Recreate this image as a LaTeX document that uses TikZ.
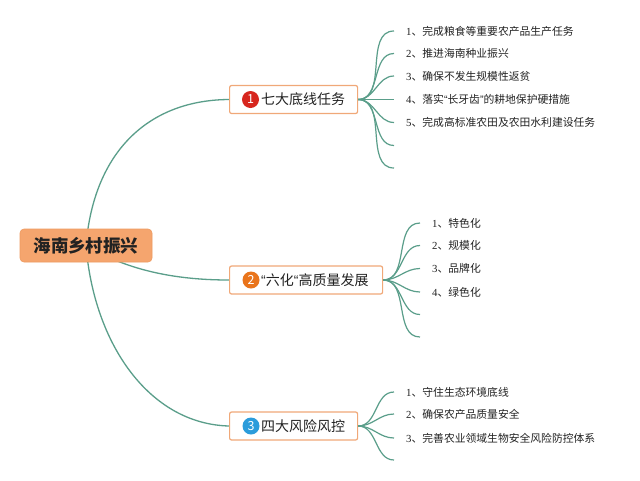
\documentclass[tikz,border=0pt]{standalone}
\usepackage{fontspec}
\setmainfont{Noto Sans CJK SC}
\newfontfamily\latq{Liberation Sans}
\newfontfamily\serdig{Liberation Serif}
\usetikzlibrary{backgrounds}
\pgfdeclarelayer{bottom}
\pgfsetlayers{bottom,background,main}
\definecolor{lnk}{HTML}{5A9E8A}
\definecolor{rootfill}{HTML}{F5A56E}
\definecolor{rootdraw}{HTML}{EE9A60}
\definecolor{boxdraw}{HTML}{F0A878}
\definecolor{cred}{HTML}{D7261E}
\definecolor{corange}{HTML}{E9741B}
\definecolor{cblue}{HTML}{2B9CDB}
\definecolor{txt}{HTML}{222222}
\newcommand{\myoq}{{\latq “}}
\newcommand{\mycq}{{\latq ”}}
\newcommand{\dg}[1]{{\serdig #1}}
\tikzset{
  mainlink/.style={draw=lnk, line width=1.3pt},
  fanlink/.style={draw=lnk, line width=1.2pt, out=0, in=180},
  rootbox/.style={rectangle, rounded corners=4pt, fill=rootfill, draw=rootdraw, line width=0.6pt,
    minimum width=132pt, minimum height=33pt, inner sep=0pt, font=\fontsize{17.5}{20}\selectfont\bfseries, text=txt},
  branchbox/.style={rectangle, rounded corners=2pt, fill=white, draw=boxdraw, line width=1.2pt,
    minimum height=28pt, inner sep=0pt, anchor=west},
  numc/.style={circle, minimum size=17pt, inner sep=0pt, text=white, font=\fontsize{12.5}{12.5}\selectfont},
  btext/.style={anchor=west, inner sep=0pt, font=\fontsize{14}{16}\selectfont, text=txt},
  leaf/.style={anchor=west, inner sep=0pt, font=\fontsize{10.8}{13}\selectfont, text=txt}
}
\begin{document}
\begin{tikzpicture}[x=1pt,y=-1pt]
\begin{pgfonlayer}{bottom}
\fill[white] (0,0) rectangle (640,480);
\end{pgfonlayer}
\useasboundingbox (0,0) rectangle (640,480);

% root and branches
\node[rootbox] (root) at (86,245.5) {海南乡村振兴};

\node[branchbox, minimum width=128pt] (b1) at (229,99.5) {};
\node[numc, fill=cred] (n1) at (250.5,99.5) {1};
\node[btext] (t1) at (261,99.5) {七大底线任务};

\node[branchbox, minimum width=153pt] (b2) at (229,280) {};
\node[numc, fill=corange] (n2) at (251,280) {2};
\node[btext] (t2) at (261,280) {\myoq 六化\myoq 高质量发展};

\node[branchbox, minimum width=128pt] (b3) at (229,426) {};
\node[numc, fill=cblue] (n3) at (251,426) {3};
\node[btext] (t3) at (261,426) {四大风险风控};

% main links behind boxes
\begin{pgfonlayer}{background}
\draw[mainlink] (root.center) .. controls (94,150) and (150,100) .. (b1.west);
\draw[mainlink] (root.center) .. controls (130,272) and (180,280) .. (b2.west);
\draw[mainlink] (root.center) .. controls (94,345) and (150,424) .. (b3.west);
\end{pgfonlayer}

% leaves of branch 1
\coordinate (a1) at (394,31);
\coordinate (a2) at (394,53.5);
\coordinate (a3) at (394,76);
\coordinate (a4) at (394,99.5);
\coordinate (a5) at (394,122.5);
\coordinate (a6) at (394,145.5);
\coordinate (a7) at (394,168);
\foreach \i in {1,...,7} \draw[fanlink] (b1.east) to (a\i);
\node[leaf] (x1) at (406,31) {\dg{1}、完成粮食等重要农产品生产任务};
\node[leaf] (x2) at (406,53.5) {\dg{2}、推进海南种业振兴};
\node[leaf] (x3) at (406,76) {\dg{3}、确保不发生规模性返贫};
\node[leaf] (x4) at (406,99.5) {\dg{4}、落实\myoq 长牙齿\mycq 的耕地保护硬措施};
\node[leaf] (x5) at (406,122.5) {\dg{5}、完成高标准农田及农田水利建设任务};

% leaves of branch 2
\coordinate (c1) at (420,223);
\coordinate (c2) at (420,245.5);
\coordinate (c3) at (420,268.5);
\coordinate (c4) at (420,292);
\coordinate (c5) at (420,314.5);
\coordinate (c6) at (420,337);
\foreach \i in {1,...,6} \draw[fanlink] (b2.east) to (c\i);
\node[leaf] (y1) at (432,223) {\dg{1}、特色化};
\node[leaf] (y2) at (432,245.5) {\dg{2}、规模化};
\node[leaf] (y3) at (432,268.5) {\dg{3}、品牌化};
\node[leaf] (y4) at (432,292) {\dg{4}、绿色化};

% leaves of branch 3
\coordinate (d1) at (394,392);
\coordinate (d2) at (394,414);
\coordinate (d3) at (394,438);
\coordinate (d4) at (394,460);
\foreach \i in {1,...,4} \draw[fanlink] (b3.east) to (d\i);
\node[leaf] (z1) at (406,392) {\dg{1}、守住生态环境底线};
\node[leaf] (z2) at (406,414) {\dg{2}、确保农产品质量安全};
\node[leaf] (z3) at (406,438) {\dg{3}、完善农业领域生物安全风险防控体系};
\end{tikzpicture}
\end{document}
